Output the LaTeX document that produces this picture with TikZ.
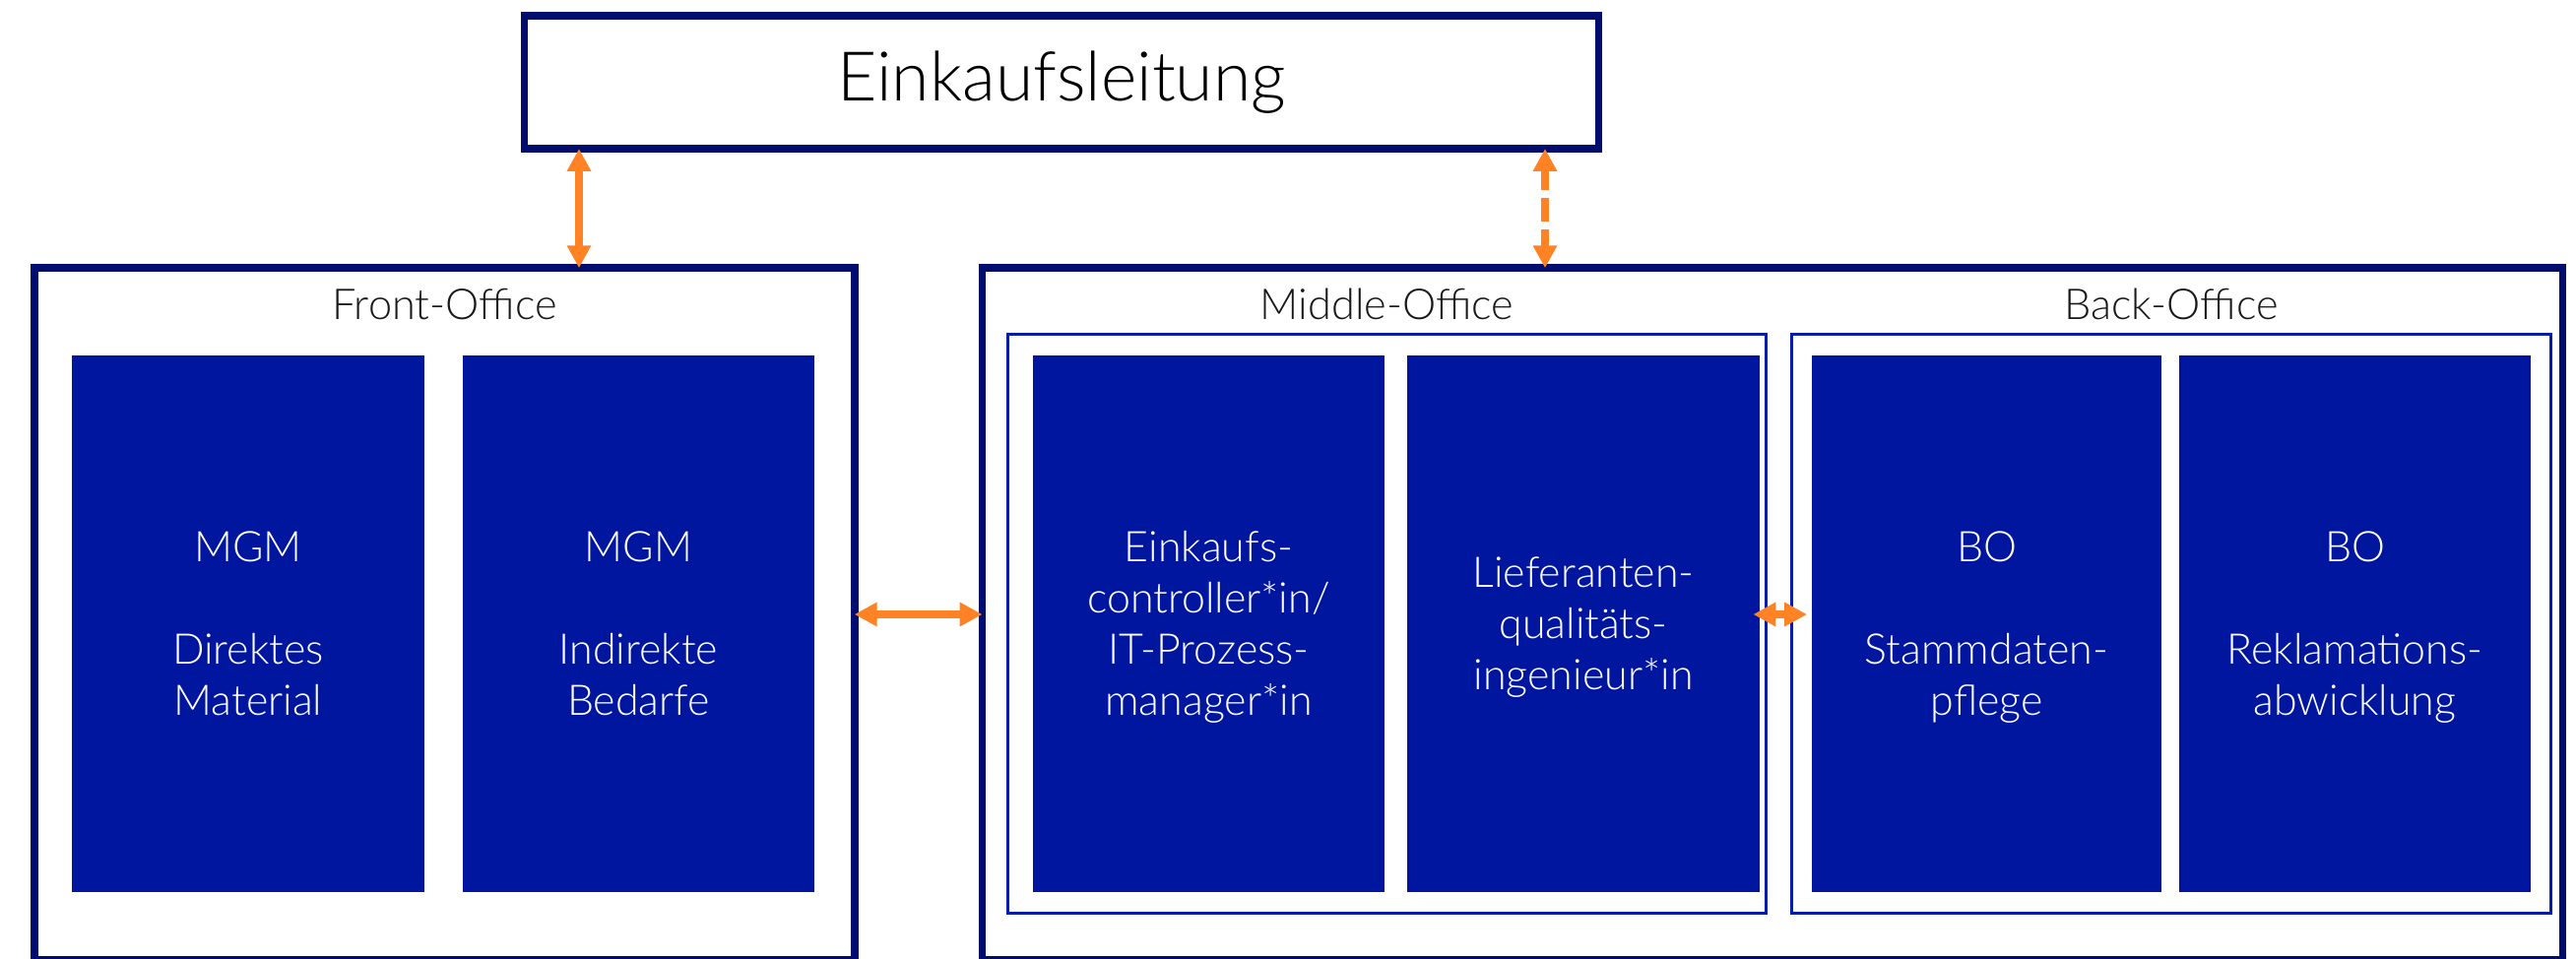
\documentclass[tikz,border=0pt]{standalone}
\usepackage{fontspec}
\setmainfont{Lato}[UprightFont={* Light}]
\usetikzlibrary{arrows.meta}

\definecolor{navy}{RGB}{0,12,110}
\definecolor{unitblue}{RGB}{0,22,158}
\definecolor{framblue}{RGB}{8,28,170}
\definecolor{linkorange}{RGB}{255,131,36}

% centred lines whose box runs from the first cap top to the last baseline
\newcommand\rolelines[2]{\raisebox{0pt}[8.7pt][#1]{\begin{tabular}[t]{@{}c@{}}#2\end{tabular}}}

\tikzset{
  outerbox/.style={draw=navy, line width=2.15pt, fill=white, outer sep=0pt, inner sep=0pt},
  groupframe/.style={draw=framblue, line width=0.75pt, outer sep=0pt, inner sep=0pt},
  unit/.style={fill=unitblue, outer sep=0pt, inner sep=0pt,
    minimum height=5.45cm, text=white,
    font=\fontsize{12.2pt}{14.8pt}\selectfont},
  grouplabel/.style={anchor=base, text=black!90, font=\fontsize{12.3pt}{14.8pt}\selectfont},
  link/.style={draw=linkorange, line width=2.3pt,
    {Triangle[length=6.5pt,width=6.6pt]}-{Triangle[length=6.5pt,width=6.6pt]}},
}

\begin{document}
\begin{tikzpicture}[x=0.01cm, y=-0.01cm]
  \useasboundingbox (0,0) rectangle (2616,974);

  % head of purchasing
  \node[outerbox, minimum width=10.9cm, minimum height=1.35cm,
        font=\fontsize{19.8pt}{24pt}\selectfont] (lead) at (1078,83.5) {Einkaufsleitung};

  % office containers
  \node[outerbox, minimum width=8.32cm, minimum height=7.02cm] (front) at (451.5,623.4) {};
  \node[outerbox, minimum width=16.04cm, minimum height=7.02cm] (rest) at (1800,623.4) {};

  \node[groupframe, minimum width=7.70cm, minimum height=5.88cm] (mid) at (1408.5,633.5) {};
  \node[groupframe, minimum width=7.71cm, minimum height=5.88cm] (back) at (2205,633.5) {};

  \node[grouplabel] (frontlbl) at (451.5,325) {Front-Office};
  \node[grouplabel] (midlbl) at (1408.5,325) {Middle-Office};
  \node[grouplabel] (backlbl) at (2205,325) {Back-Office};

  % roles
  \node[unit, minimum width=3.58cm] (fo1) at (252,633.5)
    {\rolelines{44.4pt}{MGM\\ \\Direktes\\Material}};
  \node[unit, minimum width=3.57cm] (fo2) at (648.5,633.5)
    {\rolelines{44.4pt}{MGM\\ \\Indirekte\\Bedarfe}};
  \node[unit, minimum width=3.57cm] (mo1) at (1227.5,633.5)
    {\rolelines{44.4pt}{Einkaufs-\\controller*in/\\IT-Prozess-\\manager*in}};
  \node[unit, minimum width=3.58cm] (mo2) at (1608,633.5)
    {\rolelines{29.6pt}{Lieferanten-\\qualitäts-\\ingenieur*in}};
  \node[unit, minimum width=3.55cm] (bo1) at (2017.5,633.5)
    {\rolelines{44.4pt}{BO\\ \\Stammdaten-\\pflege}};
  \node[unit, minimum width=3.57cm] (bo2) at (2391.5,633.5)
    {\rolelines{44.4pt}{BO\\ \\Reklamations-\\abwicklung}};

  % connectors
  \coordinate (xa) at (588,0);
  \coordinate (xb) at (1569,0);
  \coordinate (yc) at (0,624);
  \draw[link] (lead.south -| xa) -- (front.north -| xa);
  \draw[link, dash pattern=on 6.8pt off 2.3pt, dash phase=1pt] (lead.south -| xb) -- (rest.north -| xb);
  \draw[link] (front.east |- yc) -- (rest.west |- yc);
  \draw[link, shorten <=-1.9pt, shorten >=1.4pt] (mo2.east |- yc) -- (bo1.west |- yc);
\end{tikzpicture}
\end{document}
